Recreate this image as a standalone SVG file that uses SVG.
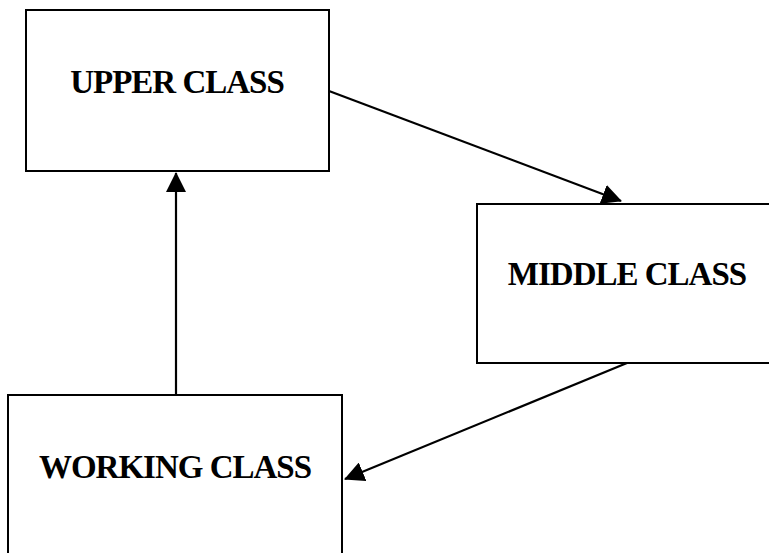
<svg xmlns="http://www.w3.org/2000/svg" width="769" height="553" viewBox="0 0 769 553">
<style>
.box{fill:#fff;stroke:#000;stroke-width:2}
.lbl{font-family:"Liberation Serif","Times New Roman",serif;font-weight:bold;font-size:33px;letter-spacing:-1px;fill:#000;text-anchor:middle}
.conn{stroke:#000;stroke-width:2.2;fill:none}
</style>
<defs>
<marker id="ah" viewBox="0 0 20 20" refX="19" refY="10" markerWidth="20" markerHeight="20" markerUnits="userSpaceOnUse" orient="auto">
<path d="M0,0 L20,10 L0,20 Z" fill="#000"/>
</marker>
</defs>
<rect width="769" height="553" fill="#fff"/>
<g id="upper">
<rect class="box" x="26" y="10" width="303" height="161"/>
<text class="lbl" x="177" y="93">UPPER CLASS</text>
</g>
<g id="middle">
<rect class="box" x="477" y="204" width="310" height="159"/>
<text class="lbl" x="627" y="285">MIDDLE CLASS</text>
</g>
<g id="working">
<rect class="box" x="8" y="395" width="334" height="170"/>
<text class="lbl" x="175" y="478">WORKING CLASS</text>
</g>
<g id="connectors">
<line class="conn" x1="176" y1="395" x2="176" y2="173" marker-end="url(#ah)"/>
<line class="conn" x1="329" y1="91" x2="621" y2="201" marker-end="url(#ah)"/>
<line class="conn" x1="627" y1="363" x2="345" y2="479" marker-end="url(#ah)"/>
</g>
</svg>
